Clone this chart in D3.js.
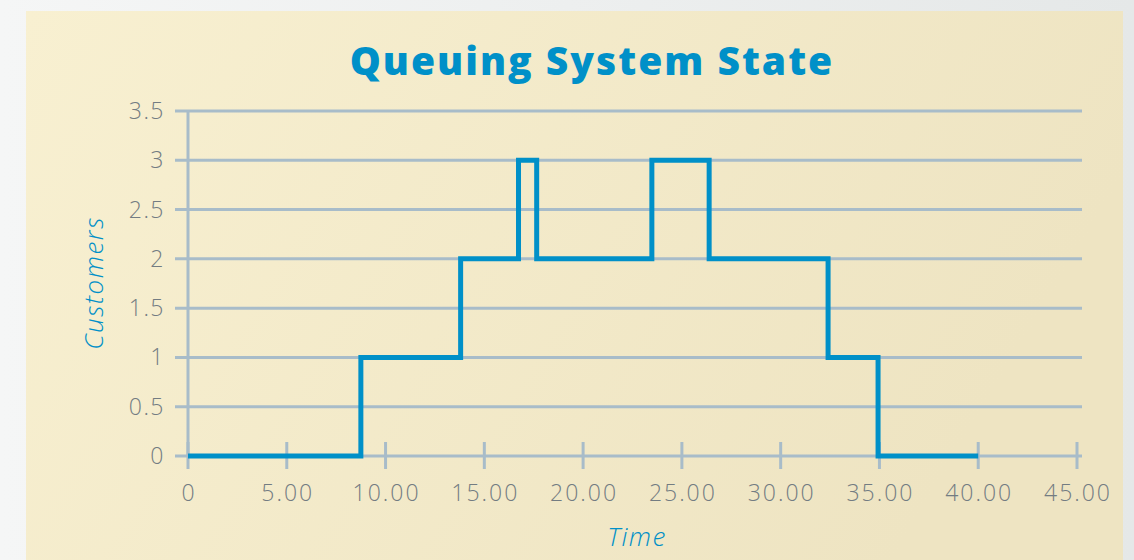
<!DOCTYPE html>
<html><head><meta charset="utf-8">
<script src="https://cdn.jsdelivr.net/npm/d3@7"></script>
<style>
html,body{margin:0;padding:0;background:#f3f4f4;}
svg{display:block;}
</style></head>
<body>
<svg id="chart" width="1134" height="560"></svg>
<script>
const title = "Queuing System State";
const xLabel = "Time";
const yLabel = "Customers";
// step change times and customer counts (value holds from time until next time)
const times =     [0, 8.75, 13.8, 16.73, 17.65, 23.48, 26.38, 32.4, 34.93, 40];
const customers = [0, 1,    2,    3,     2,     3,     2,     1,    0,     0];
const xTicks = [0, 5, 10, 15, 20, 25, 30, 35, 40, 45];
const xTickLabels = ["0", "5.00", "10.00", "15.00", "20.00", "25.00", "30.00", "35.00", "40.00", "45.00"];
const yTicks = [0, 0.5, 1, 1.5, 2, 2.5, 3, 3.5];
const yTickLabels = ["0", "0.5", "1", "1.5", "2", "2.5", "3", "3.5"];

const svg = d3.select("#chart");
const defs = svg.append("defs");
const grad = defs.append("linearGradient").attr("id","bg").attr("x1","0").attr("y1","0").attr("x2","1").attr("y2","0.3");
grad.append("stop").attr("offset","0").attr("stop-color","#f8f0d1");
grad.append("stop").attr("offset","1").attr("stop-color","#eee4c2");
const grad2 = defs.append("linearGradient").attr("id","outer").attr("x1","0").attr("y1","0").attr("x2","1").attr("y2","0");
grad2.append("stop").attr("offset","0").attr("stop-color","#f5f6f6");
grad2.append("stop").attr("offset","1").attr("stop-color","#e5e8e8");
svg.append("rect").attr("width",1134).attr("height",560).attr("fill","url(#outer)");
svg.append("rect").attr("x",26).attr("y",11).attr("width",1097).attr("height",549).attr("fill","url(#bg)");

const x = d3.scaleLinear().domain([0,45]).range([188,1077]);
const y = d3.scaleLinear().domain([0,3.5]).range([456,111]);
const gridColor = "#a8bcc9";
const labelColor = "#737c82";
const blue = "#0090c8";
const tickFont = "'Open Sans', sans-serif";

// horizontal grid lines (extend left as ticks)
svg.append("g").selectAll("line").data(yTicks).join("line")
  .attr("x1",175).attr("x2",1082)
  .attr("y1",d=>y(d)).attr("y2",d=>y(d))
  .attr("stroke",gridColor).attr("stroke-width",3);
// y axis line
svg.append("line").attr("x1",188).attr("x2",188).attr("y1",y(3.5)).attr("y2",y(0))
  .attr("stroke",gridColor).attr("stroke-width",3);
// x ticks
svg.append("g").selectAll("line").data(xTicks).join("line")
  .attr("x1",d=>x(d)).attr("x2",d=>x(d))
  .attr("y1",442).attr("y2",469)
  .attr("stroke",gridColor).attr("stroke-width",3);

// y tick labels
svg.append("g").selectAll("text").data(yTicks).join("text")
  .attr("x",165).attr("y",d=>y(d)+8)
  .attr("text-anchor","end")
  .attr("font-family",tickFont).attr("font-weight",300).attr("font-size",23)
  .attr("letter-spacing",1.5)
  .attr("fill",labelColor)
  .text((d,i)=>yTickLabels[i]);
// x tick labels
svg.append("g").selectAll("text").data(xTicks).join("text")
  .attr("x",d=>x(d)+1).attr("y",501)
  .attr("text-anchor","middle")
  .attr("font-family",tickFont).attr("font-weight",300).attr("font-size",23)
  .attr("letter-spacing",2)
  .attr("fill",labelColor)
  .text((d,i)=>xTickLabels[i]);

// step line
const pts = times.map((t,i)=>[t,customers[i]]);
const line = d3.line().x(d=>x(d[0])).y(d=>y(d[1])).curve(d3.curveStepAfter);
svg.append("path").datum(pts).attr("d",line)
  .attr("fill","none").attr("stroke",blue).attr("stroke-width",5)
  .attr("stroke-linejoin","miter").attr("stroke-linecap","butt");

// title
svg.append("text").attr("x",592).attr("y",75).attr("text-anchor","middle")
  .attr("font-family","'Open Sans', sans-serif").attr("font-weight",800).attr("font-size",39)
  .attr("letter-spacing",2)
  .attr("fill",blue).text(title);
// axis titles
svg.append("text").attr("x",637).attr("y",546).attr("text-anchor","middle")
  .attr("font-family",tickFont).attr("font-style","italic").attr("font-weight",300).attr("font-size",26)
  .attr("letter-spacing",1.5)
  .attr("fill",blue).text(xLabel);
svg.append("text").attr("transform","translate(103,283) rotate(-90)").attr("text-anchor","middle")
  .attr("font-family",tickFont).attr("font-style","italic").attr("font-weight",300).attr("font-size",26)
  .attr("letter-spacing",1.5)
  .attr("fill",blue).text(yLabel);
</script>
</body></html>
